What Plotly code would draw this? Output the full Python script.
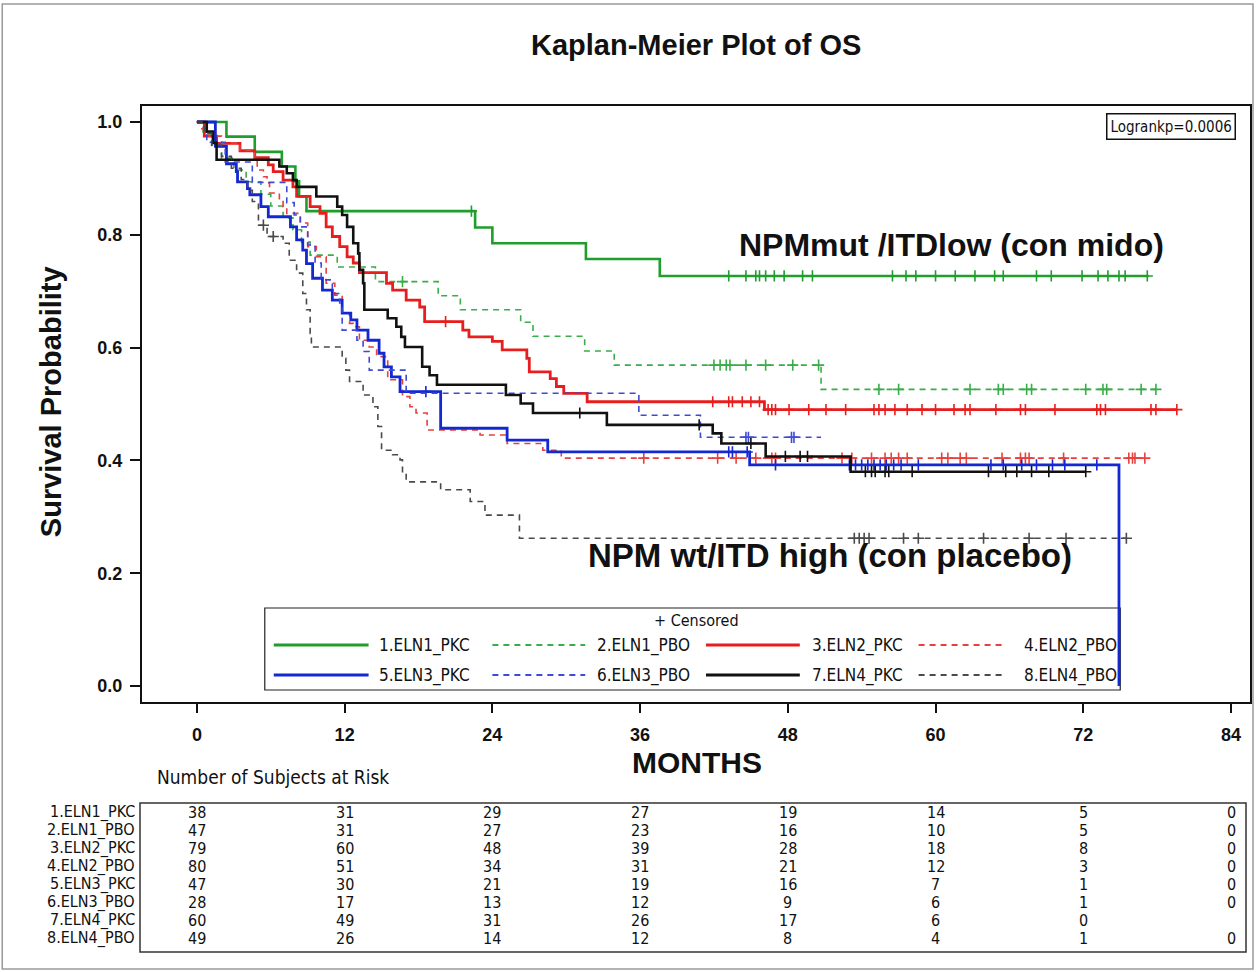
import numpy as np
import plotly.graph_objects as go

# ---------------- data ----------------
group_names = ["1.ELN1_PKC", "2.ELN1_PBO", "3.ELN2_PKC", "4.ELN2_PBO",
               "5.ELN3_PKC", "6.ELN3_PBO", "7.ELN4_PKC", "8.ELN4_PBO"]

g1_t = [0, 2.4, 4.7, 6.9, 8.0, 8.3, 8.9, 22.6, 24.0, 31.6, 37.6]
g1_s = [1.0, 0.974, 0.947, 0.921, 0.895, 0.868, 0.842, 0.813, 0.785, 0.757, 0.727]
g1_c = [22.3, 43.2, 44.6, 45.4, 45.7, 46.2, 46.9, 47.7, 49.2, 50.0, 56.5, 57.6, 58.4, 60.0,
        61.6, 63.2, 64.8, 65.5, 68.2, 69.4, 71.9, 73.2, 74.0, 74.9, 75.4, 77.2]
g1_end = 77.3

g2_t = [0, 0.5, 1.2, 2.0, 3.0, 4.0, 5.2, 6.0, 7.0, 7.8, 8.5, 9.2, 11.4, 14.5, 19.6, 21.4,
        26.3, 27.3, 31.5, 33.9, 50.7]
g2_s = [1.0, 0.979, 0.957, 0.936, 0.915, 0.894, 0.872, 0.851, 0.830, 0.809, 0.787, 0.764,
        0.743, 0.717, 0.692, 0.667, 0.645, 0.620, 0.594, 0.569, 0.526]
g2_c = [16.7, 42.0, 42.5, 43.0, 43.3, 44.6, 46.2, 48.4, 50.5, 55.4, 57.0, 62.8, 65.1, 65.5,
        67.4, 67.8, 72.2, 73.6, 73.9, 76.7, 77.9]
g2_end = 78.0

g3_t = [0, 0.6, 1.6, 3.5, 4.7, 5.8, 6.2, 7.0, 7.8, 8.1, 9.2, 10.0, 10.5, 11.0, 11.6, 12.2,
        12.7, 13.2, 15.4, 15.9, 17.0, 18.1, 18.5, 21.6, 22.1, 24.0, 24.8, 26.8, 27.0, 28.7,
        29.2, 29.8, 31.7, 46.1]
g3_s = [1.0, 0.975, 0.962, 0.949, 0.937, 0.924, 0.912, 0.897, 0.885, 0.868, 0.850, 0.838,
        0.814, 0.797, 0.779, 0.761, 0.750, 0.733, 0.714, 0.702, 0.684, 0.672, 0.646, 0.631,
        0.619, 0.611, 0.596, 0.581, 0.557, 0.545, 0.531, 0.519, 0.504, 0.490]
g3_c = [20.2, 41.9, 43.2, 43.5, 44.3, 45.0, 45.7, 46.4, 46.7, 47.0, 48.1, 49.7, 51.1, 52.7,
        55.0, 55.4, 55.9, 56.7, 57.7, 58.9, 60.0, 61.5, 62.4, 62.8, 64.9, 66.9, 67.3, 69.7,
        73.1, 73.4, 73.8, 77.5, 77.9, 79.6]
g3_end = 79.6

g4_t = [0, 0.4, 1.0, 2.0, 3.5, 4.7, 4.9, 5.4, 5.7, 5.9, 6.7, 7.0, 7.3, 8.4, 9.0, 9.7, 10.5,
        11.2, 11.8, 12.4, 12.7, 13.2, 14.0, 14.6, 15.5, 16.7, 17.3, 17.8, 18.7, 23.0, 25.2,
        28.1, 29.6]
g4_s = [1.0, 0.988, 0.975, 0.963, 0.950, 0.936, 0.915, 0.903, 0.892, 0.874, 0.862, 0.850,
        0.838, 0.821, 0.779, 0.761, 0.714, 0.693, 0.661, 0.643, 0.637, 0.613, 0.601, 0.584,
        0.543, 0.513, 0.495, 0.484, 0.454, 0.445, 0.430, 0.418, 0.404]
g4_c = [36.3, 42.3, 43.8, 45.4, 46.7, 47.0, 52.4, 53.2, 54.8, 55.9, 56.4, 57.0, 57.7, 60.5,
        61.0, 62.0, 62.5, 65.4, 66.9, 67.3, 67.6, 70.4, 75.7, 76.0, 76.2, 77.0]
g4_end = 77.1

g5_t = [0, 1.5, 2.4, 3.2, 3.3, 4.1, 4.3, 5.2, 5.8, 7.6, 8.1, 8.6, 8.9, 9.4, 10.2, 11.0, 11.8,
        12.5, 13.0, 13.9, 14.8, 15.2, 15.8, 16.5, 19.8, 25.2, 28.5, 44.9, 74.9]
g5_s = [1.0, 0.957, 0.926, 0.912, 0.894, 0.882, 0.871, 0.850, 0.832, 0.814, 0.791, 0.773,
        0.749, 0.723, 0.702, 0.684, 0.661, 0.649, 0.631, 0.613, 0.590, 0.566, 0.548, 0.522,
        0.457, 0.436, 0.415, 0.392, 0.0]
g5_c = [18.6, 43.2, 43.5, 44.7, 47.0, 53.0, 53.5, 54.0, 54.5, 55.0, 55.5, 56.0, 56.6, 57.2,
        58.6, 64.5, 65.5, 67.0, 68.2, 69.5, 70.5, 73.1]
g5_end = 74.9

g6_t = [0, 0.8, 2.3, 4.5, 7.3, 7.9, 8.4, 9.0, 9.6, 10.1, 11.0, 11.6, 11.8, 13.0, 13.5, 14.0,
        17.0, 35.9, 40.9]
g6_s = [1.0, 0.964, 0.929, 0.893, 0.857, 0.835, 0.814, 0.782, 0.750, 0.720, 0.696, 0.679,
        0.631, 0.613, 0.593, 0.560, 0.519, 0.480, 0.441]
g6_c = [44.6, 44.8, 48.3, 48.5]
g6_end = 50.7

g7_t = [0, 0.8, 1.3, 1.6, 6.7, 7.3, 7.8, 8.1, 9.7, 11.4, 11.8, 12.2, 12.7, 13.1, 13.2, 13.5,
        13.6, 15.5, 16.2, 16.6, 16.9, 18.3, 18.9, 19.5, 25.1, 26.3, 27.3, 33.3, 41.9, 42.6,
        46.2, 53.1]
g7_s = [1.0, 0.983, 0.963, 0.933, 0.921, 0.909, 0.897, 0.885, 0.868, 0.850, 0.835, 0.814,
        0.785, 0.767, 0.738, 0.714, 0.667, 0.652, 0.637, 0.619, 0.601, 0.566, 0.551, 0.534,
        0.516, 0.501, 0.484, 0.463, 0.448, 0.430, 0.407, 0.380]
g7_c = [31.1, 40.8, 45.0, 47.8, 49.0, 49.6, 54.3, 54.8, 55.1, 55.9, 56.2, 58.1, 64.3, 65.7,
        66.6, 67.8, 69.2, 72.2]
g7_end = 72.2

g8_t = [0, 0.6, 1.2, 2.0, 2.8, 3.6, 4.1, 4.5, 5.0, 5.7, 7.0, 7.5, 8.1, 8.6, 8.9, 9.2, 9.3,
        11.8, 12.1, 12.4, 13.5, 14.3, 14.7, 15.0, 15.9, 16.5, 16.7, 17.0, 19.8, 22.2, 23.4, 26.2]
g8_s = [1.0, 0.980, 0.959, 0.939, 0.918, 0.898, 0.879, 0.859, 0.817, 0.797, 0.785, 0.755,
        0.732, 0.696, 0.667, 0.625, 0.601, 0.581, 0.560, 0.540, 0.516, 0.495, 0.460, 0.418,
        0.410, 0.401, 0.377, 0.362, 0.348, 0.327, 0.303, 0.262]
g8_c = [5.4, 6.2, 53.4, 53.8, 54.2, 54.6, 57.4, 58.6, 63.9, 67.6, 70.6, 75.5]
g8_end = 75.5

risk_times = [0, 12, 24, 36, 48, 60, 72, 84]
risk_g1 = [38, 31, 29, 27, 19, 14, 5, 0]
risk_g2 = [47, 31, 27, 23, 16, 10, 5, 0]
risk_g3 = [79, 60, 48, 39, 28, 18, 8, 0]
risk_g4 = [80, 51, 34, 31, 21, 12, 3, 0]
risk_g5 = [47, 30, 21, 19, 16, 7, 1, 0]
risk_g6 = [28, 17, 13, 12, 9, 6, 1, 0]
risk_g7 = [60, 49, 31, 26, 17, 6, 0, None]
risk_g8 = [49, 26, 14, 12, 8, 4, 1, 0]

x_ticks = [0, 12, 24, 36, 48, 60, 72, 84]
y_ticks = [0.0, 0.2, 0.4, 0.6, 0.8, 1.0]

# ---------------- styles ----------------
colors = ["#1f9e2c", "#3aad4a", "#e81e1e", "#e8403c",
          "#1428d2", "#3c4ad6", "#111111", "#4a4a4a"]
dashes = ["solid", "6px,5px", "solid", "6px,5px", "solid", "6px,5px", "solid", "6px,5px"]
widths = [2.6, 1.6, 2.8, 1.6, 2.8, 1.6, 2.6, 1.6]

series = [(g1_t, g1_s, g1_c, g1_end), (g2_t, g2_s, g2_c, g2_end),
          (g3_t, g3_s, g3_c, g3_end), (g4_t, g4_s, g4_c, g4_end),
          (g5_t, g5_s, g5_c, g5_end), (g6_t, g6_s, g6_c, g6_end),
          (g7_t, g7_s, g7_c, g7_end), (g8_t, g8_s, g8_c, g8_end)]
risks = [risk_g1, risk_g2, risk_g3, risk_g4, risk_g5, risk_g6, risk_g7, risk_g8]

NARROW = "Liberation Sans Narrow, DejaVu Sans Condensed, Arial Narrow, sans-serif"
SANS = "Liberation Sans, Arial, sans-serif"

# pixel geometry of the plot frame (layout only)
W, H = 1257, 972
L, R, T, B = 142, 1252, 106, 702


def xp(px):
    return (px - L) / (R - L)


def yp(py):
    return (B - py) / (B - T)


def ann(text, x, y, size, family=SANS, xanchor="center", xref="paper", **kw):
    d = dict(text=text, xref=xref, yref="paper", x=x, y=y, showarrow=False,
             xanchor=xanchor, yanchor="middle",
             font=dict(family=family, size=size, color="#111"))
    d.update(kw)
    return d


fig = go.Figure()

for i, (t, s, c, end) in enumerate(series):
    xs = list(t)
    ys = list(s)
    if end > xs[-1]:
        xs.append(end)
        ys.append(ys[-1])
    fig.add_trace(go.Scatter(
        x=xs, y=ys, mode="lines", line_shape="hv",
        line=dict(color=colors[i], width=widths[i], dash=dashes[i]),
        showlegend=False, hoverinfo="skip"))
    ta = np.array(t)
    sa = np.array(s)
    idx = np.searchsorted(ta, np.array(c), side="right") - 1
    cy = sa[idx]
    fig.add_trace(go.Scatter(
        x=c, y=cy, mode="markers",
        marker=dict(symbol="cross-thin", size=8,
                    line=dict(color=colors[i], width=1.6)),
        showlegend=False, hoverinfo="skip"))

shapes = []
annotations = []

# outer border
shapes.append(dict(type="rect", xref="paper", yref="paper",
                   x0=xp(2), x1=xp(1255), y0=yp(969), y1=yp(4),
                   line=dict(color="#9a9a9a", width=1.5), layer="below"))

# legend box
shapes.append(dict(type="rect", xref="paper", yref="paper",
                   x0=xp(265), x1=xp(1122), y0=yp(690), y1=yp(608),
                   line=dict(color="#222222", width=1.2), fillcolor="white", layer="below"))
annotations.append(ann("+ Censored", xp(697), yp(620), 16, family=NARROW))
leg_cols = [(274, 369, 377), (493, 586, 596), (707, 801, 811), (920, 1007, 1024)]
leg_rows = [645, 675]
for i, name in enumerate(group_names):
    r = i // 4
    cidx = i % 4
    x0, x1, lx = leg_cols[cidx]
    yy = yp(leg_rows[r])
    shapes.append(dict(type="line", xref="paper", yref="paper",
                       x0=xp(x0), x1=xp(x1), y0=yy, y1=yy,
                       line=dict(color=colors[i], width=widths[i] + 0.4, dash=dashes[i])))
    annotations.append(ann(name, xp(lx), yy, 17, family=NARROW, xanchor="left"))

# title and axis titles
annotations.append(ann("<b>Kaplan-Meier Plot of OS</b>", xp(697), yp(45), 29))
annotations.append(ann("<b>Survival Probability</b>", xp(51), yp(402), 29, textangle=-90))
annotations.append(ann("<b>MONTHS</b>", xp(698), yp(762), 30))

# in-plot labels
annotations.append(ann("<b>NPMmut /ITDlow (con mido)</b>", xp(1168), yp(245), 32,
                       xanchor="right"))
annotations.append(ann("<b>NPM wt/ITD high (con placebo)</b>", xp(587), yp(555), 33,
                       xanchor="left"))

# logrank box
annotations.append(ann("Logrankp=0.0006", xp(1173), yp(127), 15, family=NARROW,
                       bordercolor="#111", borderwidth=1.5, borderpad=3, bgcolor="white"))

# risk table
annotations.append(ann("Number of Subjects at Risk", xp(155), yp(777), 19, family=NARROW,
                       xanchor="left"))
shapes.append(dict(type="rect", xref="paper", yref="paper",
                   x0=xp(140), x1=xp(1248), y0=yp(952), y1=yp(803),
                   line=dict(color="#333", width=1.5)))
row_y = [812, 830, 848, 866, 884, 902, 920, 938]
for i, name in enumerate(group_names):
    yy = yp(row_y[i])
    annotations.append(ann(name, xp(137), yy, 16, family=NARROW, xanchor="right"))
    for tt, v in zip(risk_times, risks[i]):
        if v is None:
            continue
        annotations.append(ann(str(v), tt, yy, 16, family=NARROW, xref="x"))

x_range = [(L - 197) / 12.333, (R - 197) / 12.333]
y_range = [-(B - 686) / 564, 1 + (122 - T) / 564]

fig.update_layout(
    width=W, height=H,
    margin=dict(l=L, r=W - R, t=T, b=H - B, pad=0),
    paper_bgcolor="white", plot_bgcolor="white",
    shapes=shapes, annotations=annotations,
    xaxis=dict(range=x_range, tickvals=x_ticks, ticktext=[str(v) for v in x_ticks],
               showgrid=False, zeroline=False, showline=True, linecolor="#111", linewidth=2,
               mirror=True, ticks="outside", ticklen=9, tickwidth=2, tickcolor="#111",
               ticklabelstandoff=6,
               tickfont=dict(family=SANS, size=18, color="#111", weight="bold")),
    yaxis=dict(range=y_range, tickvals=y_ticks, ticktext=["%.1f" % v for v in y_ticks],
               showgrid=False, zeroline=False, showline=True, linecolor="#111", linewidth=2,
               mirror=True, ticks="outside", ticklen=10, tickwidth=2, tickcolor="#111",
               ticklabelstandoff=4,
               tickfont=dict(family=SANS, size=18, color="#111", weight="bold")),
)

fig.write_html("out.html")
